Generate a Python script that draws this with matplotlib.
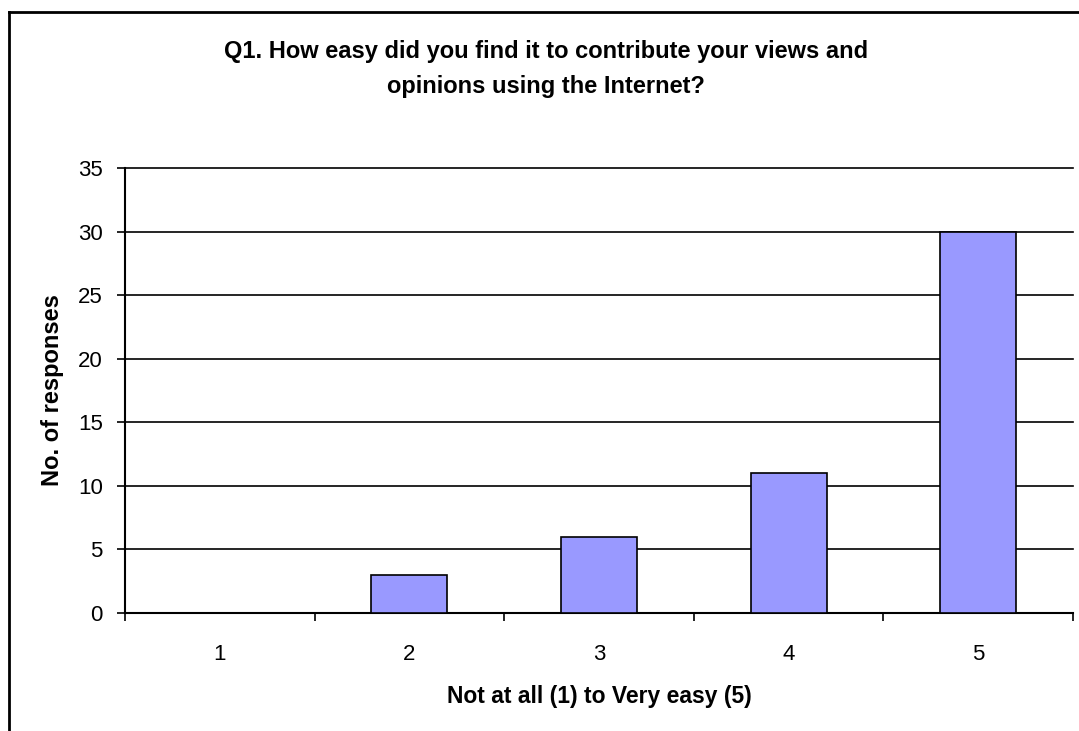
import numpy as np
import matplotlib.pyplot as plt
from matplotlib.lines import Line2D

categories = ['1', '2', '3', '4', '5']
responses = [0, 3, 6, 11, 30]
yticks = [0, 5, 10, 15, 20, 25, 30, 35]

plt.rcParams['font.family'] = ['Liberation Sans', 'DejaVu Sans']

W, H = 1079, 731
fig = plt.figure(figsize=(W / 100, H / 100), dpi=100)
ax = fig.add_axes([125 / W, 1 - 613 / H, (1073 - 125) / W, (613 - 168) / H])

x = np.arange(len(categories))
ax.bar(x, responses, width=0.4, color='#9999FF', edgecolor='black', linewidth=1.2, zorder=3)

ax.set_xlim(-0.5, len(categories) - 0.5)
ax.set_ylim(0, 35)
ax.set_yticks(yticks)
ax.set_xticks(x)
ax.set_xticklabels(categories)
ax.set_xticks(np.arange(-0.5, len(categories)), minor=True)
ax.tick_params(axis='x', which='major', length=0, pad=22, labelsize=16)
ax.tick_params(axis='x', which='minor', length=6, width=1.2, direction='out')
ax.tick_params(axis='y', length=6, width=1.2, labelsize=16, pad=10)

ax.yaxis.grid(True, color='black', linewidth=1.2, zorder=0)
ax.set_axisbelow(True)
for line in ax.get_ygridlines():
    line.set_clip_on(False)
for s in ['top', 'right']:
    ax.spines[s].set_visible(False)
for s in ['left', 'bottom']:
    ax.spines[s].set_linewidth(1.5)

ax.set_ylabel('No. of responses', fontsize=17, fontweight='bold')
ax.set_xlabel('Not at all (1) to Very easy (5)', fontsize=16.5, fontweight='bold')
ax.yaxis.set_label_coords((53 - 125) / 948, 0.5)
ax.xaxis.set_label_coords(0.5, (613 - 697) / 445)
ax.yaxis.label.set_va('center')
ax.xaxis.label.set_va('center')

fig.text(546 / W, 1 - 69 / H,
         'Q1. How easy did you find it to contribute your views and\nopinions using the Internet?',
         ha='center', va='center', fontsize=17, fontweight='bold', linespacing=1.65)

# chart border
fig.add_artist(Line2D([9 / W, 9 / W], [0, 1 - 12 / H], transform=fig.transFigure, color='black', linewidth=2))
fig.add_artist(Line2D([9 / W, 1], [1 - 12 / H, 1 - 12 / H], transform=fig.transFigure, color='black', linewidth=2))

fig.savefig('out.png', dpi=100)
